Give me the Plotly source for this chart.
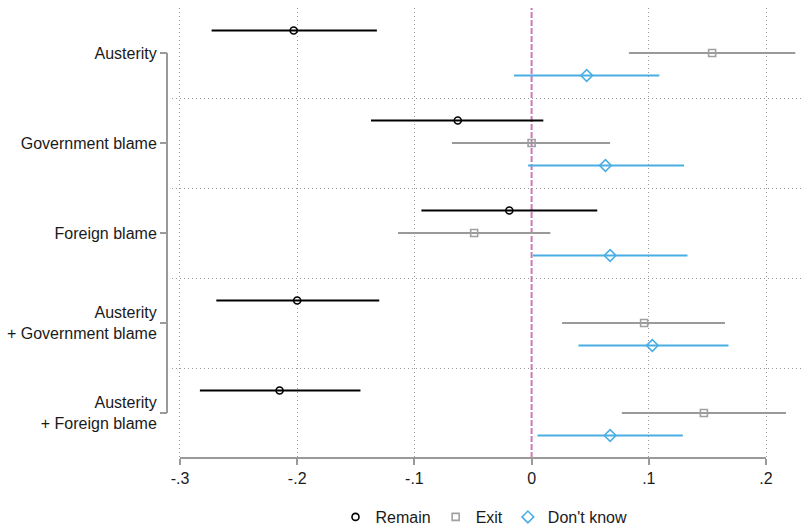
import plotly.graph_objects as go

categories = ["Austerity", "Government blame", "Foreign blame",
              "Austerity<br>+ Government blame", "Austerity<br>+ Foreign blame"]

remain_est = [-0.203, -0.063, -0.019, -0.200, -0.215]
remain_lo = [-0.273, -0.137, -0.094, -0.269, -0.283]
remain_hi = [-0.132, 0.010, 0.056, -0.130, -0.146]

exit_est = [0.154, 0.000, -0.049, 0.096, 0.147]
exit_lo = [0.083, -0.068, -0.114, 0.026, 0.077]
exit_hi = [0.225, 0.067, 0.016, 0.165, 0.217]

dk_est = [0.047, 0.063, 0.067, 0.103, 0.067]
dk_lo = [-0.015, -0.003, 0.001, 0.040, 0.005]
dk_hi = [0.109, 0.130, 0.133, 0.168, 0.129]

x_ticks = [-0.3, -0.2, -0.1, 0, 0.1, 0.2]
x_ticklabels = ["-.3", "-.2", "-.1", "0", ".1", ".2"]

series = [
    ("Remain", remain_est, remain_lo, remain_hi, -0.25, "#000000", "#000000", "circle-open", 7),
    ("Exit", exit_est, exit_lo, exit_hi, 0.0, "#9a9a9a", "#a0a0a0", "square-open", 7),
    ("Don't know", dk_est, dk_lo, dk_hi, 0.25, "#4aaee3", "#4aaee3", "diamond-open", 9),
]

FONT = "Liberation Sans, Arial, Helvetica, sans-serif"
GRID = "#9a9a9a"
n = len(categories)
pos = list(range(1, n + 1))

fig = go.Figure()
for name, est, lo, hi, off, lcol, mcol, sym, size in series:
    fig.add_trace(go.Scatter(
        x=est,
        y=[p + off for p in pos],
        mode="markers",
        name=name,
        marker=dict(symbol=sym, size=size, color=mcol, line=dict(width=1.6, color=mcol)),
        error_x=dict(type="data", symmetric=False,
                     array=[h - e for h, e in zip(hi, est)],
                     arrayminus=[e - l for e, l in zip(est, lo)],
                     width=0, thickness=2, color=lcol),
    ))

plot_l = 167
fig_w, fig_h = 802, 529
plot_w = fig_w - plot_l
plot_t, plot_b = 8, 71
plot_h = fig_h - plot_t - plot_b

fig.update_layout(
    width=fig_w, height=fig_h,
    margin=dict(l=plot_l, r=0, t=plot_t, b=plot_b, autoexpand=False),
    paper_bgcolor="white", plot_bgcolor="white",
    font=dict(family=FONT, size=16, color="#1a1a1a"),
    showlegend=True,
    legend=dict(orientation="h", x=(484 - plot_l) / plot_w, xanchor="center",
                y=-(517 - (fig_h - plot_b)) / plot_h, yanchor="middle",
                font=dict(size=16), itemwidth=30, traceorder="normal",
                bgcolor="rgba(0,0,0,0)"),
    xaxis=dict(domain=[5 / plot_w, 1], range=[-0.3068, 0.2307],
               tickvals=x_ticks, ticktext=x_ticklabels,
               showgrid=True, gridcolor=GRID, griddash="1px,3px", gridwidth=1.2,
               zeroline=False, showline=False,
               ticks="outside", ticklen=6, tickwidth=2, tickcolor=GRID,
               tickfont=dict(size=16)),
    yaxis=dict(range=[n + 0.5, 0.5], anchor="free", position=0,
               tickvals=pos, ticktext=categories,
               showgrid=False, zeroline=False, showline=False,
               ticks="outside", ticklen=7, tickwidth=2, tickcolor=GRID,
               tickfont=dict(size=16),
               minor=dict(tickvals=[p + 0.5 for p in pos[:-1]], showgrid=True,
                          gridcolor=GRID, griddash="1px,3px", gridwidth=1.2, ticks="")),
)

# y axis line spanning the category range
fig.add_shape(type="line", xref="paper", yref="y", x0=0, x1=0, y0=pos[0], y1=pos[-1],
              line=dict(color=GRID, width=2))
# x axis line spanning the tick range
fig.add_shape(type="line", xref="x", yref="paper", x0=x_ticks[0], x1=x_ticks[-1], y0=0, y1=0,
              line=dict(color=GRID, width=2))
# zero reference line
fig.add_shape(type="line", xref="x", yref="paper", x0=0, x1=0, y0=0, y1=1,
              line=dict(color="#cc79b4", width=2, dash="6px,2px"), layer="below")

fig.write_html("out.html")
